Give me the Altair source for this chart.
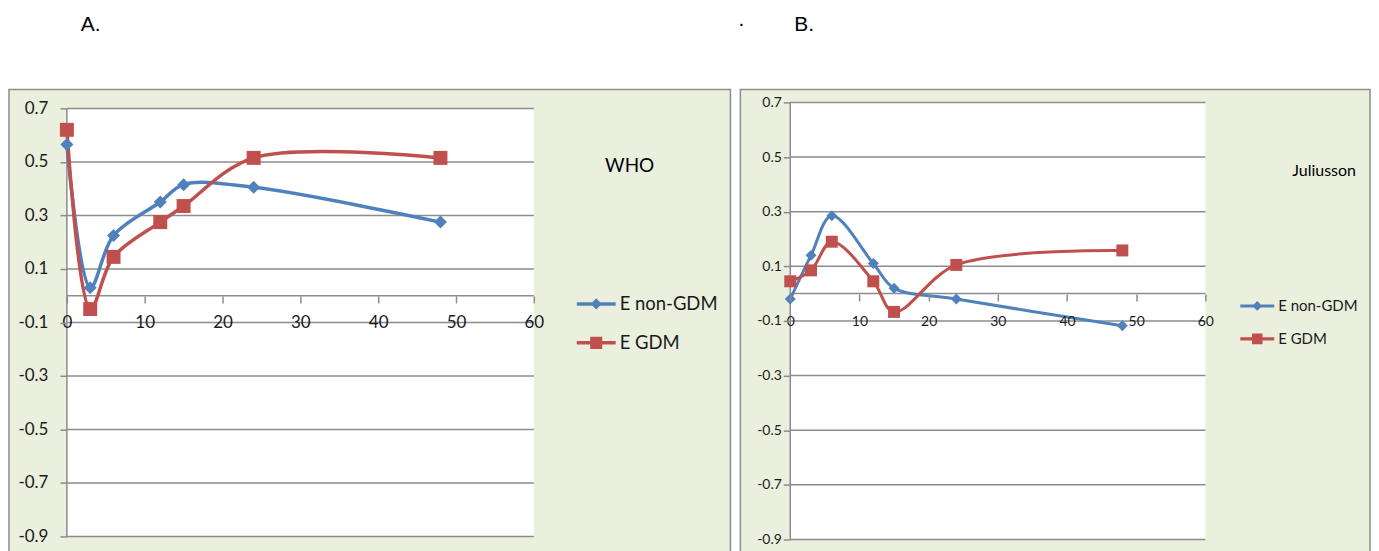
import altair as alt
import pandas as pd

# ---------------- data ----------------
months = [0, 3, 6, 12, 15, 24, 48]
who_non_gdm = [0.565, 0.03, 0.225, 0.35, 0.415, 0.405, 0.275]
who_gdm = [0.62, -0.05, 0.145, 0.275, 0.335, 0.515, 0.515]
jul_non_gdm = [-0.02, 0.14, 0.285, 0.11, 0.02, -0.02, -0.118]
jul_gdm = [0.045, 0.085, 0.19, 0.045, -0.067, 0.105, 0.158]
series_names = ["E non-GDM", "E GDM"]
y_ticks = [-0.9, -0.7, -0.5, -0.3, -0.1, 0.1, 0.3, 0.5, 0.7]
x_ticks = [0, 10, 20, 30, 40, 50, 60]
x_range = [0, 60]
y_range = [-0.9, 0.7]

# ---------------- style ----------------
BLUE = "#4F81BD"
RED = "#C0504D"
GREEN = "#EBF0DE"
GREY = "#8C8C8C"
TEXT = "#1A1A1A"
FONT = "Lato"
LEG_DIAMOND = "M-1,-0.09H1V0.09H-1Z M0,-0.29L0.29,0L0,0.29L-0.29,0Z"
LEG_SQUARE = "M-1,-0.09H1V0.09H-1Z M-0.31,-0.31H0.31V0.31H-0.31Z"

LABEL_EXPR = "datum.value < 0 ? '-' + format(-datum.value, '.1f') : format(datum.value, '.1f')"


def panel(non_gdm, gdm, c):
    data = pd.DataFrame({
        "t": months + months,
        "v": non_gdm + gdm,
        "s": [series_names[0]] * len(months) + [series_names[1]] * len(months),
    })
    one = pd.DataFrame({"x0": [x_range[0]], "x1": [x_range[1]],
                        "y0": [y_range[0]], "y1": [y_range[1]], "z": [0]})
    grid = pd.DataFrame({"g": y_ticks, "x0": x_range[0], "x1": x_range[1]})
    dummy = pd.DataFrame({"k": [0]})

    xs = alt.Scale(domain=x_range, nice=False, zero=False)
    ys = alt.Scale(domain=[y_range[0], c["ytop"]], nice=False, zero=False)
    xaxis = alt.Axis(values=x_ticks, format="d", title=None, grid=False, domain=False,
                     tickSize=7, tickColor=GREY, tickWidth=1.5,
                     labelFont=FONT, labelFontSize=c["fs"], labelColor=TEXT,
                     labelPadding=c["xpad"], labelFlush=False, labelOverlap=False,
                     offset=c["xoff"], zindex=1)
    yaxis = alt.Axis(values=y_ticks, title=None, grid=False, domain=False,
                     tickSize=7, tickColor=GREY, tickWidth=1.5,
                     labelFont=FONT, labelFontSize=c["fs"], labelColor=TEXT,
                     labelPadding=c["ypad"], labelFlush=False, labelOverlap=False,
                     labelExpr=LABEL_EXPR, zindex=1)

    def X(f):
        return alt.X(f, scale=xs, axis=xaxis)

    def Y(f):
        return alt.Y(f, scale=ys, axis=yaxis)

    cscale = alt.Scale(domain=series_names, range=[BLUE, RED])
    fl, ft, fr, fb = c["frame"]

    frame = alt.Chart(dummy).mark_rect(fill=GREEN, stroke=GREY, strokeWidth=1.5).encode(
        x=alt.value(fl), x2=alt.value(fr), y=alt.value(ft), y2=alt.value(fb))
    topbound = alt.Chart(dummy).mark_rect(opacity=0).encode(
        x=alt.value(0), x2=alt.value(1), y=alt.value(c["topb"]), y2=alt.value(c["topb"] + 1))
    bg = alt.Chart(one).mark_rect(fill="white").encode(
        x=X("x0:Q"), x2="x1:Q", y=Y("y0:Q"), y2="y1:Q")
    gridl = alt.Chart(grid).mark_rule(color=GREY, strokeWidth=1.5).encode(
        x=X("x0:Q"), x2="x1:Q", y=Y("g:Q"))
    zero = alt.Chart(one).mark_rule(color=GREY, strokeWidth=1.5).encode(
        x=X("x0:Q"), x2="x1:Q", y=Y("z:Q"))
    yline = alt.Chart(one).mark_rule(color=GREY, strokeWidth=1.5).encode(
        x=X("z:Q"), y=Y("y0:Q"), y2="y1:Q")
    lines = alt.Chart(data).mark_line(
        interpolate="catmull-rom", strokeWidth=c["lw"], strokeJoin="round", strokeCap="round"
    ).encode(x=X("t:Q"), y=Y("v:Q"), stroke=alt.Stroke("s:N", scale=cscale, legend=None))
    points = alt.Chart(data).mark_point(filled=True, opacity=1, strokeWidth=0).encode(
        x=X("t:Q"), y=Y("v:Q"),
        color=alt.Color("s:N", scale=cscale, legend=None),
        shape=alt.Shape("s:N", scale=alt.Scale(domain=series_names, range=["diamond", "square"]), legend=None),
        size=alt.Size("s:N", scale=alt.Scale(domain=series_names, range=[c["ds"], c["ss"]]), legend=None),
    )
    lx, ly, lsize, lrow, loff, lfs = c["leg"]
    leg = alt.Legend(orient="none", legendX=lx, legendY=ly, title=None,
                     symbolSize=lsize, symbolStrokeWidth=0, symbolOpacity=1,
                     labelFont=FONT, labelFontSize=lfs, labelColor=TEXT,
                     labelOffset=loff, rowPadding=lrow, padding=0, labelLimit=0)
    carrier = alt.Chart(data).transform_filter("datum.t < 0").mark_point(filled=True).encode(
        x=X("t:Q"), y=Y("v:Q"),
        fill=alt.Fill("s:N", scale=cscale, legend=leg),
        shape=alt.Shape("s:N", scale=alt.Scale(domain=series_names, range=[LEG_DIAMOND, LEG_SQUARE]), legend=leg),
    )
    texts = []
    for txt, tx, ty, tfs, tfont, talign, tbase in c["texts"]:
        texts.append(alt.Chart(dummy).mark_text(
            text=txt, font=tfont, fontSize=tfs, align=talign, baseline=tbase, color="black"
        ).encode(x=alt.value(tx), y=alt.value(ty)))

    return alt.layer(frame, topbound, bg, gridl, zero, yline, lines, points, carrier, *texts).properties(
        width=c["W"], height=c["H"]).resolve_scale(shape="independent", fill="independent")


cfgA = dict(W=468, H=435, ytop=0.7224, xoff=-241, fs=17, xpad=12, ypad=12, lw=3.5, ds=169, ss=196,
            leg=(511, 182.5, 1521, 10, 4, 18.5), frame=(-58, -13, 665, 460), topb=-94,
            texts=[("A.", 14, -72, 21, "Liberation Sans", "left", "alphabetic"),
                   ("WHO", 564, 64, 19, FONT, "center", "middle")])
cfgB = dict(W=416, H=438, ytop=0.7, xoff=-246, fs=14, xpad=14, ypad=2, lw=3, ds=121, ss=144,
            leg=(451, 187, 1156, 8, 4, 15), frame=(-50, -13, 581, 460), topb=-94,
            texts=[(".", -52, -77, 21, "Liberation Sans", "left", "alphabetic"),
                   ("B.", 4, -72, 21, "Liberation Sans", "left", "alphabetic"),
                   ("Juliusson", 535, 69, 16, FONT, "center", "middle")])

pA = panel(who_non_gdm, who_gdm, cfgA)
pB = panel(jul_non_gdm, jul_gdm, cfgB)

chart = alt.hconcat(pA, pB, spacing=257, bounds="flush").resolve_scale(
    color="independent", fill="independent", shape="independent", stroke="independent",
    size="independent", x="independent", y="independent"
).properties(padding=0, background="white").configure_view(stroke=None)

chart.save("out.html", embed_options={"renderer": "svg", "actions": False})
